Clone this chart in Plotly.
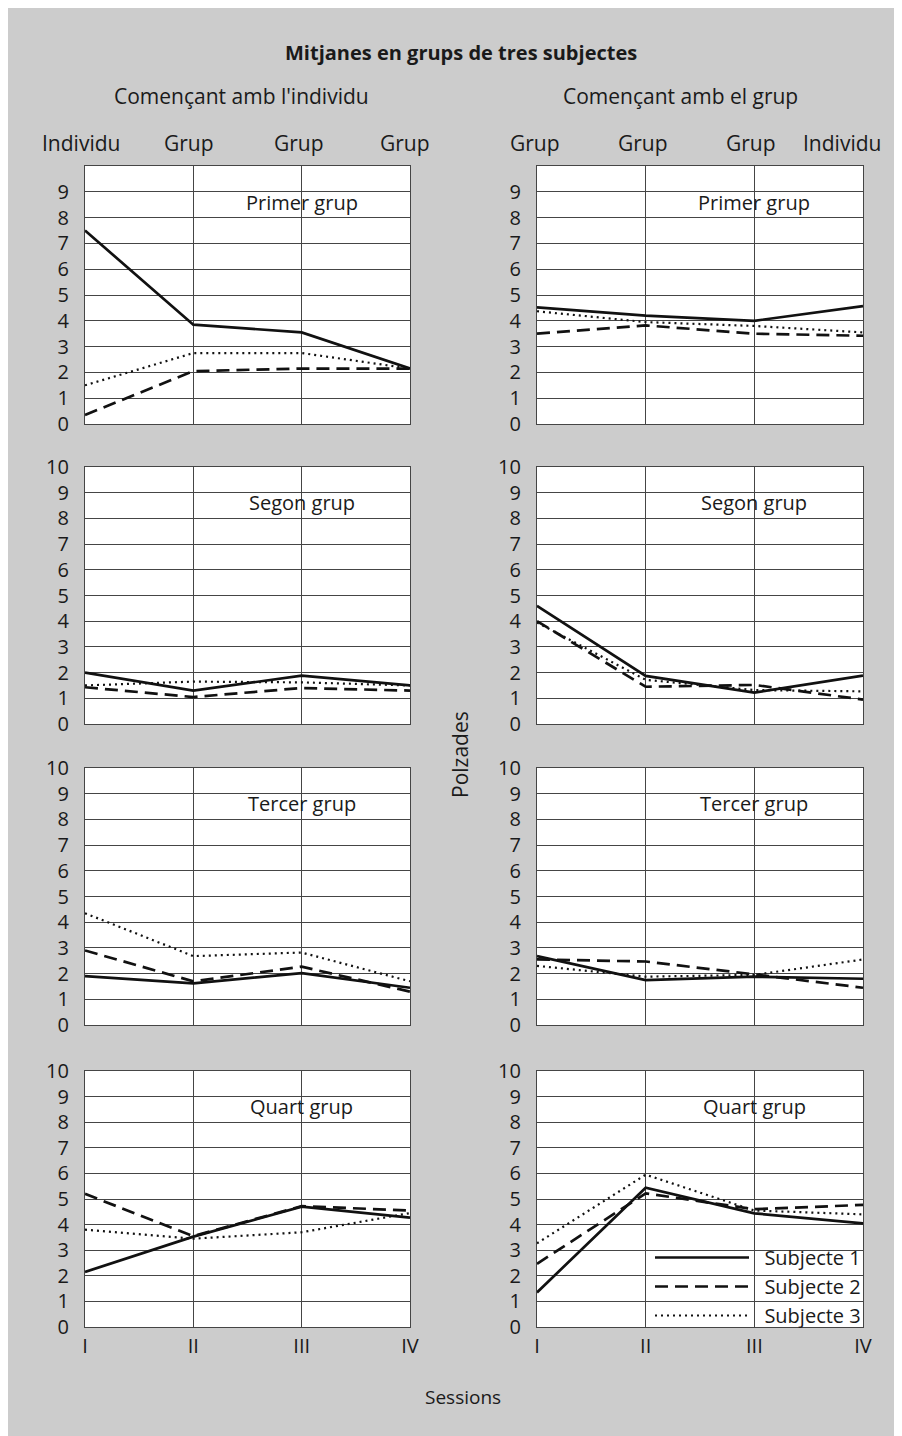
import plotly.graph_objects as go

# ---------------- data ----------------
sessions = ["I", "II", "III", "IV"]
session_pos = [0, 1, 2, 3]
groups = ["Primer grup", "Segon grup", "Tercer grup", "Quart grup"]
subjects = ["Subjecte 1", "Subjecte 2", "Subjecte 3"]
columns = ["Començant amb l'individu", "Començant amb el grup"]
top_labels_ind = ["Individu", "Grup", "Grup", "Grup"]
top_labels_grp = ["Grup", "Grup", "Grup", "Individu"]
y_ticks_top = [0, 1, 2, 3, 4, 5, 6, 7, 8, 9]
y_ticks = [0, 1, 2, 3, 4, 5, 6, 7, 8, 9, 10]

# Començant amb l'individu
ind_primer_s1 = [7.5, 3.85, 3.55, 2.15]
ind_primer_s2 = [0.35, 2.05, 2.15, 2.15]
ind_primer_s3 = [1.5, 2.75, 2.75, 2.15]
ind_segon_s1 = [2.0, 1.3, 1.88, 1.5]
ind_segon_s2 = [1.43, 1.05, 1.4, 1.3]
ind_segon_s3 = [1.5, 1.65, 1.62, 1.5]
ind_tercer_s1 = [1.9, 1.62, 2.02, 1.45]
ind_tercer_s2 = [2.9, 1.7, 2.27, 1.3]
ind_tercer_s3 = [4.35, 2.68, 2.82, 1.7]
ind_quart_s1 = [2.15, 3.53, 4.7, 4.27]
ind_quart_s2 = [5.2, 3.55, 4.72, 4.55]
ind_quart_s3 = [3.8, 3.45, 3.7, 4.45]

# Començant amb el grup
grp_primer_s1 = [4.52, 4.2, 4.0, 4.57]
grp_primer_s2 = [3.5, 3.82, 3.5, 3.42]
grp_primer_s3 = [4.37, 3.95, 3.8, 3.55]
grp_segon_s1 = [4.6, 1.87, 1.22, 1.88]
grp_segon_s2 = [4.0, 1.45, 1.52, 0.95]
grp_segon_s3 = [3.95, 1.72, 1.32, 1.27]
grp_tercer_s1 = [2.68, 1.75, 1.88, 1.8]
grp_tercer_s2 = [2.55, 2.47, 1.97, 1.45]
grp_tercer_s3 = [2.3, 1.88, 1.95, 2.55]
grp_quart_s1 = [1.35, 5.44, 4.44, 4.05]
grp_quart_s2 = [2.47, 5.22, 4.6, 4.77]
grp_quart_s3 = [3.27, 5.95, 4.55, 4.4]

panels = [
    [ind_primer_s1, ind_primer_s2, ind_primer_s3],
    [grp_primer_s1, grp_primer_s2, grp_primer_s3],
    [ind_segon_s1, ind_segon_s2, ind_segon_s3],
    [grp_segon_s1, grp_segon_s2, grp_segon_s3],
    [ind_tercer_s1, ind_tercer_s2, ind_tercer_s3],
    [grp_tercer_s1, grp_tercer_s2, grp_tercer_s3],
    [ind_quart_s1, ind_quart_s2, ind_quart_s3],
    [grp_quart_s1, grp_quart_s2, grp_quart_s3],
]

# ---------------- layout helpers ----------------
W, H = 894, 1428
OX, OY = 8, 8
FONT = "Open Sans"
TXT = "#1a1a1a"
GRID = "#454545"


def px(x):
    return (x - OX) / W


def py(y):
    return 1 - (y - OY) / H


col_x = [(85, 410), (537, 863)]
row_y = [(166, 424), (467, 724), (768, 1025), (1071, 1327)]

line_styles = [
    dict(color="#111111", width=2.7, dash="solid"),
    dict(color="#111111", width=2.7, dash="13px,7px"),
    dict(color="#111111", width=2.2, dash="2px,4px"),
]

fig = go.Figure()
layout = dict(
    width=W, height=H, autosize=False,
    margin=dict(l=0, r=0, t=0, b=0, pad=0, autoexpand=False),
    paper_bgcolor="#cccccc",
    plot_bgcolor="white",
    font=dict(family=FONT, color=TXT, size=19),
    showlegend=True,
)
annotations = []

for i, series in enumerate(panels):
    r, c = divmod(i, 2)
    n = i + 1
    xa = "x" if n == 1 else f"x{n}"
    ya = "y" if n == 1 else f"y{n}"
    last = (i == len(panels) - 1)
    for k, vals in enumerate(series):
        fig.add_trace(go.Scatter(
            x=session_pos, y=vals, mode="lines",
            line=line_styles[k], name="\u00a0\u00a0" + subjects[k],
            showlegend=last, xaxis=xa, yaxis=ya,
            hoverinfo="skip",
        ))
    x0, x1 = col_x[c]
    y0, y1 = row_y[r]
    layout["xaxis" if n == 1 else f"xaxis{n}"] = dict(
        domain=[px(x0), px(x1)], range=[0, 3], anchor=ya,
        tickvals=session_pos, ticktext=sessions,
        showticklabels=(r == 3), ticks="",
        tickfont=dict(size=20, color=TXT, family=FONT),
        ticklabelstandoff=1,
        showgrid=True, gridcolor=GRID, gridwidth=1,
        showline=True, mirror=True, linecolor=GRID, linewidth=1.3,
        zeroline=False, fixedrange=True,
    )
    layout["yaxis" if n == 1 else f"yaxis{n}"] = dict(
        domain=[py(y1), py(y0)], range=[0, 10], anchor=xa,
        tickvals=y_ticks_top if r == 0 else y_ticks,
        tickfont=dict(size=20, color=TXT, family=FONT),
        ticks="", ticklabelstandoff=11,
        showgrid=True, gridcolor=GRID, gridwidth=1,
        showline=True, mirror=True, linecolor=GRID, linewidth=1.3,
        zeroline=False, fixedrange=True,
    )
    annotations.append(dict(
        xref=xa, yref=ya, x=2, y=8.6, text=groups[r], showarrow=False,
        font=dict(size=20, color=TXT), xanchor="center", yanchor="middle",
    ))

# top session-type labels
shifts_ind = [-4, -4, -3, -5]
shifts_grp = [-2, -3, -3, -21]
for c, (labels, shifts) in enumerate([(top_labels_ind, shifts_ind), (top_labels_grp, shifts_grp)]):
    xa = "x" if c == 0 else "x2"
    for k, lab in enumerate(labels):
        annotations.append(dict(
            xref=xa, yref="paper", x=session_pos[k], y=py(143), text=lab,
            showarrow=False, xshift=shifts[k], xanchor="center", yanchor="middle",
            font=dict(size=21, color=TXT),
        ))

annotations += [
    dict(xref="paper", yref="paper", x=px(461), y=py(52),
         text="<b>Mitjanes en grups de tres subjectes</b>", showarrow=False,
         font=dict(size=20, color=TXT), xanchor="center", yanchor="middle"),
    dict(xref="paper", yref="paper", x=px(241), y=py(96), text=columns[0],
         showarrow=False, font=dict(size=21, color=TXT), xanchor="center", yanchor="middle"),
    dict(xref="paper", yref="paper", x=px(680), y=py(96), text=columns[1],
         showarrow=False, font=dict(size=21, color=TXT), xanchor="center", yanchor="middle"),
    dict(xref="paper", yref="paper", x=px(460), y=py(755), text="Polzades",
         textangle=-90, showarrow=False, font=dict(size=21, color=TXT),
         xanchor="center", yanchor="middle"),
    dict(xref="paper", yref="paper", x=px(463), y=py(1397), text="Sessions",
         showarrow=False, font=dict(size=19, color=TXT), xanchor="center", yanchor="middle"),
]
layout["annotations"] = annotations
layout["legend"] = dict(
    x=px(866), y=py(1335), xanchor="right", yanchor="bottom",
    bgcolor="rgba(0,0,0,0)", borderwidth=0,
    font=dict(size=20, color=TXT, family=FONT),
    itemwidth=94, tracegroupgap=0,
)
fig.update_layout(**layout)
fig.write_html("out.html")
